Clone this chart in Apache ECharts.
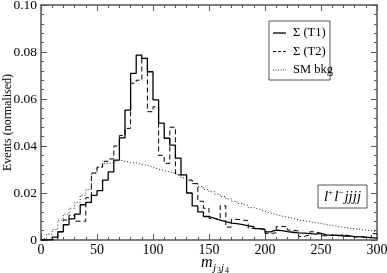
<!DOCTYPE html>
<html>
<head>
<meta charset="utf-8">
<script src="https://cdn.jsdelivr.net/npm/echarts@6/dist/echarts.min.js"></script>
<style>
html,body{margin:0;padding:0;background:#fff;}
#c{width:387px;height:273px;}
</style>
</head>
<body>
<div id="c"></div>
<script>
// bin edges (GeV), width 5
const binEdges = [0,5,10,15,20,25,30,35,40,45,50,55,60,65,70,75,80,85,90,95,
  100,105,110,115,120,125,130,135,140,145,150,155,160,165,170,175,180,185,190,195,
  200,205,210,215,220,225,230,235,240,245,250,255,260,265,270,275,280,285,290,295,300];

const sigmaT1 = [0,0.0002,0.0012,0.0035,0.0065,0.009,0.011,0.0150,0.0160,0.019,
  0.021,0.0255,0.029,0.034,0.0435,0.0553,0.0709,0.0787,0.0773,0.0716,
  0.0596,0.0497,0.0433,0.0404,0.0348,0.0277,0.020,0.0145,0.012,0.0100,
  0.0092,0.0085,0.0078,0.0072,0.0070,0.0065,0.0060,0.0057,0.0048,0.0045,
  0.0035,0.0042,0.0040,0.0036,0.0033,0.0030,0.0029,0.0027,0.0025,0.0028,
  0.0022,0.0020,0.0021,0.0017,0.0018,0.0014,0.0013,0.0012,0.0010,0.0008];

const sigmaT2 = [0,0,0.0005,0.0035,0.0085,0.0105,0.0080,0.0080,0.0180,0.0285,
  0.031,0.0335,0.0345,0.040,0.0445,0.0475,0.0667,0.068,0.0773,0.0546,
  0.0567,0.036,0.0326,0.048,0.0277,0.0277,0.0255,0.024,0.0165,0.0135,
  0.0092,0.0085,0.0145,0.0055,0.0088,0.0085,0.0082,0.0050,0.0048,0.0045,
  0.0028,0.0030,0.0057,0.0057,0.0042,0.0038,0.0015,0.0022,0.0035,0.0028,
  0.0018,0.0022,0.0016,0.0024,0.0017,0.0012,0.0016,0.0011,0.0009,0.0027];

const smBkg = [0.0005,0.0025,0.0045,0.0085,0.011,0.0135,0.016,0.019,0.0215,0.0285,
  0.031,0.0325,0.0333,0.034,0.0335,0.033,0.0328,0.0322,0.0318,0.031,
  0.0302,0.0295,0.029,0.0283,0.0275,0.0265,0.0252,0.024,0.0228,0.0215,
  0.0205,0.0195,0.0185,0.0175,0.0165,0.0155,0.0147,0.0138,0.013,0.0122,
  0.0115,0.0108,0.0102,0.0097,0.0092,0.0087,0.0082,0.0078,0.0074,0.007,
  0.0066,0.0062,0.0058,0.0054,0.0051,0.0048,0.0045,0.0042,0.0039,0.0036];

const seriesNames = ['\u03a3 (T1)', '\u03a3 (T2)', 'SM bkg'];
const xTicks = [0,50,100,150,200,250,300];
const yTicks = [0,0.02,0.04,0.06,0.08,0.10];

function steps(vals){
  const pts = vals.map((v,i)=>[binEdges[i], v]);
  pts.push([binEdges[binEdges.length-1], vals[vals.length-1]]);
  return pts;
}

const serif = 'Liberation Serif';
const axisCol = '#555';
const chart = echarts.init(document.getElementById('c'), null, {renderer:'canvas'});

const commonAxis = {
  axisLine:{show:true, onZero:false, lineStyle:{color:axisCol, width:1.5}},
  axisTick:{show:true, inside:true, length:6, lineStyle:{color:axisCol, width:1}},
  minorTick:{show:true, splitNumber:5, length:3, lineStyle:{color:axisCol, width:1}},
  splitLine:{show:false}
};

const lineStyles = [
  {color:'#000', width:1.3, type:'solid'},
  {color:'#000', width:1, type:[5,3]},
  {color:'#222', width:1, type:[1,2]}
];

// legend drawn as graphic (box + line samples + labels)
const legendX = 269, legendY = 21, legendRowH = 18.5;
const legendGraphic = [
  {type:'rect', shape:{x:legendX, y:legendY, width:61, height:59}, style:{fill:'#fff', stroke:'#555', lineWidth:1}, z:10}
];
seriesNames.forEach((n,i)=>{
  const yy = legendY + 12 + i*legendRowH;
  legendGraphic.push({type:'line', shape:{x1:legendX+4, y1:yy, x2:legendX+17, y2:yy},
    style:{stroke:lineStyles[i].color, lineWidth:lineStyles[i].width, lineDash: i===0?null:(i===1?[3,2]:[1,1.5])}, z:11});
  legendGraphic.push({type:'text', x:legendX+24, y:yy, style:{text:n, fontFamily:serif, fontSize:12.5, fill:'#000', verticalAlign:'middle'}, z:11});
});

chart.setOption({
  animation:false,
  backgroundColor:'#fff',
  grid:{left:41, right:10, top:5, bottom:33, containLabel:false, outerBoundsMode:'none'},
  xAxis:[
    Object.assign({}, commonAxis, {
      type:'value', min:xTicks[0], max:xTicks[xTicks.length-1], interval:50, position:'bottom',
      axisLabel:{fontFamily:serif, fontSize:14, color:'#000', margin:3},
    }),
    Object.assign({}, commonAxis, {
      type:'value', min:0, max:300, interval:50, position:'top',
      axisLabel:{show:false}
    })
  ],
  yAxis:[
    Object.assign({}, commonAxis, {
      type:'value', min:yTicks[0], max:yTicks[yTicks.length-1], interval:0.02, position:'left',
      name:'Events (normalised)', nameLocation:'middle', nameGap:27, nameRotate:90,
      nameMoveOverlap:false,
      nameTextStyle:{fontFamily:serif, fontSize:12, color:'#000'},
      axisLabel:{fontFamily:serif, fontSize:13.5, color:'#000', margin:4,
        formatter:(v)=> v===0 ? '0' : v.toFixed(2)}
    }),
    Object.assign({}, commonAxis, {
      type:'value', min:0, max:0.1, interval:0.02, position:'right',
      axisLabel:{show:false}
    })
  ],
  series:[
    {name:seriesNames[0], type:'line', step:'end', symbol:'none', data:steps(sigmaT1), lineStyle:lineStyles[0]},
    {name:seriesNames[1], type:'line', step:'end', symbol:'none', data:steps(sigmaT2), lineStyle:lineStyles[1]},
    {name:seriesNames[2], type:'line', step:'end', symbol:'none', data:steps(smBkg), lineStyle:lineStyles[2]}
  ],
  graphic:legendGraphic.concat([
    {type:'rect', shape:{x:318, y:185, width:49, height:23}, style:{fill:'#fff', stroke:'#555', lineWidth:1}},
    {type:'text', x:342.5, y:197, style:{
      text:'{l|l}{s|+}{l|l}{s|\u2212}{j|jjjj}', align:'center', verticalAlign:'middle',
      rich:{
        l:{fontFamily:serif, fontStyle:'italic', fontSize:15, fill:'#000'},
        j:{fontFamily:serif, fontStyle:'italic', fontSize:15, fill:'#000'},
        s:{fontFamily:serif, fontSize:9, fill:'#000', verticalAlign:'top', padding:[0,1,8,0]}
      }}},
    {type:'text', x:201, y:255, style:{text:'m', fontFamily:serif, fontStyle:'italic', fontSize:16, fill:'#000'}},
    {type:'text', x:213, y:263, style:{text:'j', fontFamily:serif, fontStyle:'italic', fontSize:11, fill:'#000'}},
    {type:'text', x:217, y:267, style:{text:'3', fontFamily:serif, fontSize:8, fill:'#000'}},
    {type:'text', x:221, y:263, style:{text:'j', fontFamily:serif, fontStyle:'italic', fontSize:11, fill:'#000'}},
    {type:'text', x:225, y:267, style:{text:'4', fontFamily:serif, fontSize:8, fill:'#000'}}
  ])
});
</script>
</body>
</html>
